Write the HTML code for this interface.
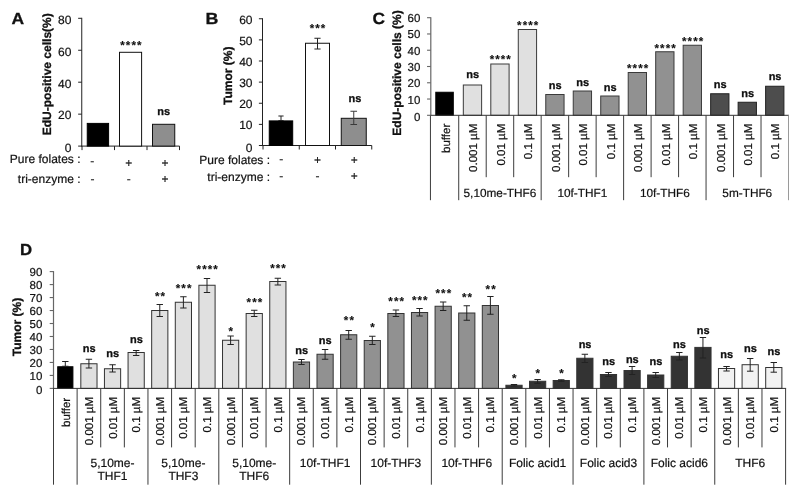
<!DOCTYPE html>
<html><head><meta charset="utf-8"><title>Figure</title>
<style>
html,body{margin:0;padding:0;background:#fff;}
body{width:800px;height:496px;overflow:hidden;font-family:'Liberation Sans', sans-serif;}
svg{display:block;will-change:transform;text-rendering:geometricPrecision;font-family:'Liberation Sans', sans-serif;}
</style></head><body>
<svg width="800" height="496" viewBox="0 0 800 496">
<rect x="0" y="0" width="800" height="496" fill="#ffffff"/>
<text x="11.50" y="23.90" font-size="16" text-anchor="start" font-weight="bold" fill="#111" stroke="#111" stroke-width="0.3" textLength="12.6" lengthAdjust="spacingAndGlyphs">A</text>
<line x1="81.75" y1="17.80" x2="81.75" y2="146.60" stroke="#222" stroke-width="1"/>
<line x1="81.25" y1="146.10" x2="179.50" y2="146.10" stroke="#222" stroke-width="1"/>
<line x1="78.15" y1="146.10" x2="81.75" y2="146.10" stroke="#222" stroke-width="1"/>
<text x="71.40" y="152.00" font-size="12" text-anchor="end" fill="#111" stroke="#111" stroke-width="0.2">0</text>
<line x1="78.15" y1="114.15" x2="81.75" y2="114.15" stroke="#222" stroke-width="1"/>
<text x="71.40" y="119.45" font-size="12" text-anchor="end" fill="#111" stroke="#111" stroke-width="0.2">20</text>
<line x1="78.15" y1="82.20" x2="81.75" y2="82.20" stroke="#222" stroke-width="1"/>
<text x="71.40" y="87.50" font-size="12" text-anchor="end" fill="#111" stroke="#111" stroke-width="0.2">40</text>
<line x1="78.15" y1="50.25" x2="81.75" y2="50.25" stroke="#222" stroke-width="1"/>
<text x="71.40" y="55.55" font-size="12" text-anchor="end" fill="#111" stroke="#111" stroke-width="0.2">60</text>
<line x1="78.15" y1="18.30" x2="81.75" y2="18.30" stroke="#222" stroke-width="1"/>
<text x="71.40" y="23.60" font-size="12" text-anchor="end" fill="#111" stroke="#111" stroke-width="0.2">80</text>
<line x1="82.00" y1="146.10" x2="82.00" y2="150.10" stroke="#222" stroke-width="1"/>
<line x1="114.50" y1="146.10" x2="114.50" y2="150.10" stroke="#222" stroke-width="1"/>
<line x1="147.00" y1="146.10" x2="147.00" y2="150.10" stroke="#222" stroke-width="1"/>
<line x1="179.50" y1="146.10" x2="179.50" y2="150.10" stroke="#222" stroke-width="1"/>
<rect x="87.25" y="123.40" width="21.35" height="22.70" fill="#000" stroke="#000" stroke-width="1"/>
<rect x="119.50" y="52.30" width="22.10" height="93.80" fill="#fff" stroke="#111" stroke-width="1"/>
<rect x="152.50" y="124.30" width="22.25" height="21.80" fill="#8e8e8e" stroke="#111" stroke-width="1"/>
<text x="131.45" y="49.27" font-size="11.5" text-anchor="middle" font-weight="bold" fill="#111" stroke="#111" stroke-width="0.1" letter-spacing="1.1">****</text>
<text x="163.70" y="114.50" font-size="11" text-anchor="middle" font-weight="bold" fill="#111" stroke="#111" stroke-width="0.3">ns</text>
<text x="51.20" y="74.30" font-size="12" text-anchor="middle" font-weight="bold" transform="rotate(-90 51.20 74.30)" fill="#111" stroke="#111" stroke-width="0.3">EdU-positive cells(%)</text>
<text x="80.50" y="163.00" font-size="12" text-anchor="end" fill="#111" stroke="#111" stroke-width="0.2">Pure folates :</text>
<text x="80.50" y="182.75" font-size="12" text-anchor="end" fill="#111" stroke="#111" stroke-width="0.2">tri-enzyme :</text>
<text x="92.20" y="165.40" font-size="12" text-anchor="middle" fill="#111" stroke="#111" stroke-width="0.15">-</text>
<text x="128.75" y="166.50" font-size="12" text-anchor="middle" fill="#111" stroke="#111" stroke-width="0.15">+</text>
<text x="165.00" y="166.50" font-size="12" text-anchor="middle" fill="#111" stroke="#111" stroke-width="0.15">+</text>
<text x="92.50" y="182.75" font-size="12" text-anchor="middle" fill="#111" stroke="#111" stroke-width="0.15">-</text>
<text x="128.75" y="182.75" font-size="12" text-anchor="middle" fill="#111" stroke="#111" stroke-width="0.15">-</text>
<text x="165.00" y="182.75" font-size="12" text-anchor="middle" fill="#111" stroke="#111" stroke-width="0.15">+</text>
<text x="205.60" y="24.30" font-size="16" text-anchor="start" font-weight="bold" fill="#111" stroke="#111" stroke-width="0.3" textLength="12.9" lengthAdjust="spacingAndGlyphs">B</text>
<line x1="262.50" y1="18.25" x2="262.50" y2="146.00" stroke="#222" stroke-width="1"/>
<line x1="262.00" y1="145.50" x2="371.75" y2="145.50" stroke="#222" stroke-width="1"/>
<line x1="258.90" y1="145.50" x2="262.50" y2="145.50" stroke="#222" stroke-width="1"/>
<text x="252.50" y="151.80" font-size="12" text-anchor="end" fill="#111" stroke="#111" stroke-width="0.2">0</text>
<line x1="258.90" y1="124.38" x2="262.50" y2="124.38" stroke="#222" stroke-width="1"/>
<text x="252.50" y="129.47" font-size="12" text-anchor="end" fill="#111" stroke="#111" stroke-width="0.2">10</text>
<line x1="258.90" y1="103.25" x2="262.50" y2="103.25" stroke="#222" stroke-width="1"/>
<text x="252.50" y="108.35" font-size="12" text-anchor="end" fill="#111" stroke="#111" stroke-width="0.2">20</text>
<line x1="258.90" y1="82.12" x2="262.50" y2="82.12" stroke="#222" stroke-width="1"/>
<text x="252.50" y="87.22" font-size="12" text-anchor="end" fill="#111" stroke="#111" stroke-width="0.2">30</text>
<line x1="258.90" y1="61.00" x2="262.50" y2="61.00" stroke="#222" stroke-width="1"/>
<text x="252.50" y="66.10" font-size="12" text-anchor="end" fill="#111" stroke="#111" stroke-width="0.2">40</text>
<line x1="258.90" y1="39.88" x2="262.50" y2="39.88" stroke="#222" stroke-width="1"/>
<text x="252.50" y="44.98" font-size="12" text-anchor="end" fill="#111" stroke="#111" stroke-width="0.2">50</text>
<line x1="258.90" y1="18.75" x2="262.50" y2="18.75" stroke="#222" stroke-width="1"/>
<text x="252.50" y="23.85" font-size="12" text-anchor="end" fill="#111" stroke="#111" stroke-width="0.2">60</text>
<line x1="263.00" y1="145.50" x2="263.00" y2="149.50" stroke="#222" stroke-width="1"/>
<line x1="299.25" y1="145.50" x2="299.25" y2="149.50" stroke="#222" stroke-width="1"/>
<line x1="335.50" y1="145.50" x2="335.50" y2="149.50" stroke="#222" stroke-width="1"/>
<line x1="371.75" y1="145.50" x2="371.75" y2="149.50" stroke="#222" stroke-width="1"/>
<rect x="269.25" y="120.90" width="23.45" height="24.60" fill="#000" stroke="#000" stroke-width="1"/>
<line x1="281.00" y1="116.00" x2="281.00" y2="120.50" stroke="#222" stroke-width="1"/>
<line x1="278.40" y1="116.00" x2="283.60" y2="116.00" stroke="#222" stroke-width="1"/>
<line x1="278.40" y1="120.50" x2="283.60" y2="120.50" stroke="#222" stroke-width="1"/>
<rect x="305.50" y="43.25" width="24.00" height="102.25" fill="#fff" stroke="#111" stroke-width="1"/>
<line x1="317.50" y1="38.25" x2="317.50" y2="49.00" stroke="#222" stroke-width="1"/>
<line x1="314.40" y1="38.25" x2="320.60" y2="38.25" stroke="#222" stroke-width="1"/>
<line x1="314.40" y1="49.00" x2="320.60" y2="49.00" stroke="#222" stroke-width="1"/>
<rect x="341.25" y="118.30" width="25.00" height="27.20" fill="#8e8e8e" stroke="#111" stroke-width="1"/>
<line x1="353.75" y1="111.25" x2="353.75" y2="124.50" stroke="#3a3a3a" stroke-width="1"/>
<line x1="350.45" y1="111.25" x2="357.05" y2="111.25" stroke="#3a3a3a" stroke-width="1"/>
<line x1="350.45" y1="124.50" x2="357.05" y2="124.50" stroke="#3a3a3a" stroke-width="1"/>
<text x="318.05" y="31.67" font-size="11.5" text-anchor="middle" font-weight="bold" fill="#111" stroke="#111" stroke-width="0.1" letter-spacing="1.1">***</text>
<text x="355.00" y="102.00" font-size="11" text-anchor="middle" font-weight="bold" fill="#111" stroke="#111" stroke-width="0.3">ns</text>
<text x="232.00" y="75.80" font-size="12" text-anchor="middle" font-weight="bold" transform="rotate(-90 232.00 75.80)" fill="#111" stroke="#111" stroke-width="0.3">Tumor (%)</text>
<text x="270.00" y="164.00" font-size="12" text-anchor="end" fill="#111" stroke="#111" stroke-width="0.2">Pure folates :</text>
<text x="270.00" y="180.50" font-size="12" text-anchor="end" fill="#111" stroke="#111" stroke-width="0.2">tri-enzyme :</text>
<text x="281.25" y="162.50" font-size="12" text-anchor="middle" fill="#111" stroke="#111" stroke-width="0.15">-</text>
<text x="317.50" y="163.70" font-size="12" text-anchor="middle" fill="#111" stroke="#111" stroke-width="0.15">+</text>
<text x="354.25" y="163.70" font-size="12" text-anchor="middle" fill="#111" stroke="#111" stroke-width="0.15">+</text>
<text x="281.25" y="180.30" font-size="12" text-anchor="middle" fill="#111" stroke="#111" stroke-width="0.15">-</text>
<text x="317.50" y="180.30" font-size="12" text-anchor="middle" fill="#111" stroke="#111" stroke-width="0.15">-</text>
<text x="354.25" y="179.50" font-size="12" text-anchor="middle" fill="#111" stroke="#111" stroke-width="0.15">+</text>
<text x="372.60" y="24.00" font-size="16.3" text-anchor="start" font-weight="bold" fill="#111" stroke="#111" stroke-width="0.3" textLength="12.5" lengthAdjust="spacingAndGlyphs">C</text>
<line x1="430.80" y1="17.20" x2="430.80" y2="115.30" stroke="#666" stroke-width="1.2"/>
<line x1="427.05" y1="115.30" x2="430.80" y2="115.30" stroke="#666" stroke-width="1.1"/>
<text x="420.30" y="120.90" font-size="11.5" text-anchor="end" fill="#111" stroke="#111" stroke-width="0.2">0</text>
<line x1="427.05" y1="99.03" x2="430.80" y2="99.03" stroke="#666" stroke-width="1.1"/>
<text x="420.30" y="103.53" font-size="11.5" text-anchor="end" fill="#111" stroke="#111" stroke-width="0.2">10</text>
<line x1="427.05" y1="82.77" x2="430.80" y2="82.77" stroke="#666" stroke-width="1.1"/>
<text x="420.30" y="87.27" font-size="11.5" text-anchor="end" fill="#111" stroke="#111" stroke-width="0.2">20</text>
<line x1="427.05" y1="66.50" x2="430.80" y2="66.50" stroke="#666" stroke-width="1.1"/>
<text x="420.30" y="71.00" font-size="11.5" text-anchor="end" fill="#111" stroke="#111" stroke-width="0.2">30</text>
<line x1="427.05" y1="50.23" x2="430.80" y2="50.23" stroke="#666" stroke-width="1.1"/>
<text x="420.30" y="54.73" font-size="11.5" text-anchor="end" fill="#111" stroke="#111" stroke-width="0.2">40</text>
<line x1="427.05" y1="33.97" x2="430.80" y2="33.97" stroke="#666" stroke-width="1.1"/>
<text x="420.30" y="38.47" font-size="11.5" text-anchor="end" fill="#111" stroke="#111" stroke-width="0.2">50</text>
<line x1="427.05" y1="17.70" x2="430.80" y2="17.70" stroke="#666" stroke-width="1.1"/>
<text x="420.30" y="22.20" font-size="11.5" text-anchor="end" fill="#111" stroke="#111" stroke-width="0.2">60</text>
<text x="401.00" y="73.00" font-size="12" text-anchor="middle" font-weight="bold" transform="rotate(-90 401.00 73.00)" fill="#111" stroke="#111" stroke-width="0.3">EdU-positive cells (%)</text>
<rect x="435.80" y="92.25" width="17.50" height="23.05" fill="#000" stroke="#000" stroke-width="1"/>
<text x="450.49" y="123.75" font-size="11.5" text-anchor="end" transform="rotate(-90 450.49 123.75)" fill="#111" stroke="#111" stroke-width="0.2">buffer</text>
<rect x="463.32" y="85.00" width="18.30" height="30.30" fill="#e0e0e0" stroke="#3a3a3a" stroke-width="1"/>
<text x="472.77" y="78.40" font-size="11" text-anchor="middle" font-weight="bold" fill="#111" stroke="#111" stroke-width="0.3">ns</text>
<text x="477.17" y="123.75" font-size="11.5" text-anchor="end" transform="rotate(-90 477.17 123.75)" fill="#111" stroke="#111" stroke-width="0.2">0.001 µM</text>
<rect x="490.80" y="64.00" width="18.30" height="51.30" fill="#e0e0e0" stroke="#3a3a3a" stroke-width="1"/>
<text x="500.80" y="63.27" font-size="11.5" text-anchor="middle" font-weight="bold" fill="#111" stroke="#111" stroke-width="0.1" letter-spacing="1.1">****</text>
<text x="504.65" y="123.75" font-size="11.5" text-anchor="end" transform="rotate(-90 504.65 123.75)" fill="#111" stroke="#111" stroke-width="0.2">0.01 µM</text>
<rect x="518.28" y="29.50" width="18.30" height="85.80" fill="#e0e0e0" stroke="#3a3a3a" stroke-width="1"/>
<text x="528.28" y="29.27" font-size="11.5" text-anchor="middle" font-weight="bold" fill="#111" stroke="#111" stroke-width="0.1" letter-spacing="1.1">****</text>
<text x="532.13" y="123.75" font-size="11.5" text-anchor="end" transform="rotate(-90 532.13 123.75)" fill="#111" stroke="#111" stroke-width="0.2">0.1 µM</text>
<rect x="545.76" y="94.50" width="18.30" height="20.80" fill="#919191" stroke="#3a3a3a" stroke-width="1"/>
<text x="555.21" y="89.00" font-size="11" text-anchor="middle" font-weight="bold" fill="#111" stroke="#111" stroke-width="0.3">ns</text>
<text x="559.61" y="123.75" font-size="11.5" text-anchor="end" transform="rotate(-90 559.61 123.75)" fill="#111" stroke="#111" stroke-width="0.2">0.001 µM</text>
<rect x="573.24" y="91.00" width="18.30" height="24.30" fill="#919191" stroke="#3a3a3a" stroke-width="1"/>
<text x="582.69" y="85.50" font-size="11" text-anchor="middle" font-weight="bold" fill="#111" stroke="#111" stroke-width="0.3">ns</text>
<text x="587.09" y="123.75" font-size="11.5" text-anchor="end" transform="rotate(-90 587.09 123.75)" fill="#111" stroke="#111" stroke-width="0.2">0.01 µM</text>
<rect x="600.73" y="96.00" width="18.30" height="19.30" fill="#919191" stroke="#3a3a3a" stroke-width="1"/>
<text x="610.17" y="90.50" font-size="11" text-anchor="middle" font-weight="bold" fill="#111" stroke="#111" stroke-width="0.3">ns</text>
<text x="614.58" y="123.75" font-size="11.5" text-anchor="end" transform="rotate(-90 614.58 123.75)" fill="#111" stroke="#111" stroke-width="0.2">0.1 µM</text>
<rect x="628.21" y="72.50" width="18.30" height="42.80" fill="#919191" stroke="#3a3a3a" stroke-width="1"/>
<text x="638.21" y="72.37" font-size="11.5" text-anchor="middle" font-weight="bold" fill="#111" stroke="#111" stroke-width="0.1" letter-spacing="1.1">****</text>
<text x="642.06" y="123.75" font-size="11.5" text-anchor="end" transform="rotate(-90 642.06 123.75)" fill="#111" stroke="#111" stroke-width="0.2">0.001 µM</text>
<rect x="655.69" y="51.75" width="18.30" height="63.55" fill="#919191" stroke="#3a3a3a" stroke-width="1"/>
<text x="665.69" y="52.27" font-size="11.5" text-anchor="middle" font-weight="bold" fill="#111" stroke="#111" stroke-width="0.1" letter-spacing="1.1">****</text>
<text x="669.54" y="123.75" font-size="11.5" text-anchor="end" transform="rotate(-90 669.54 123.75)" fill="#111" stroke="#111" stroke-width="0.2">0.01 µM</text>
<rect x="683.17" y="45.25" width="18.30" height="70.05" fill="#919191" stroke="#3a3a3a" stroke-width="1"/>
<text x="693.17" y="44.77" font-size="11.5" text-anchor="middle" font-weight="bold" fill="#111" stroke="#111" stroke-width="0.1" letter-spacing="1.1">****</text>
<text x="697.02" y="123.75" font-size="11.5" text-anchor="end" transform="rotate(-90 697.02 123.75)" fill="#111" stroke="#111" stroke-width="0.2">0.1 µM</text>
<rect x="710.65" y="93.75" width="18.30" height="21.55" fill="#4d4d4d" stroke="#222" stroke-width="1"/>
<text x="720.10" y="88.25" font-size="11" text-anchor="middle" font-weight="bold" fill="#111" stroke="#111" stroke-width="0.3">ns</text>
<text x="724.50" y="123.75" font-size="11.5" text-anchor="end" transform="rotate(-90 724.50 123.75)" fill="#111" stroke="#111" stroke-width="0.2">0.001 µM</text>
<rect x="738.13" y="102.25" width="18.30" height="13.05" fill="#4d4d4d" stroke="#222" stroke-width="1"/>
<text x="747.58" y="96.75" font-size="11" text-anchor="middle" font-weight="bold" fill="#111" stroke="#111" stroke-width="0.3">ns</text>
<text x="751.98" y="123.75" font-size="11.5" text-anchor="end" transform="rotate(-90 751.98 123.75)" fill="#111" stroke="#111" stroke-width="0.2">0.01 µM</text>
<rect x="765.61" y="86.25" width="18.30" height="29.05" fill="#4d4d4d" stroke="#222" stroke-width="1"/>
<text x="775.06" y="80.00" font-size="11" text-anchor="middle" font-weight="bold" fill="#111" stroke="#111" stroke-width="0.3">ns</text>
<text x="779.46" y="123.75" font-size="11.5" text-anchor="end" transform="rotate(-90 779.46 123.75)" fill="#111" stroke="#111" stroke-width="0.2">0.1 µM</text>
<line x1="430.75" y1="115.30" x2="789.00" y2="115.30" stroke="#333" stroke-width="1"/>
<line x1="430.45" y1="115.30" x2="430.45" y2="200.20" stroke="#3c3c3c" stroke-width="1"/>
<line x1="458.73" y1="115.30" x2="458.73" y2="200.20" stroke="#3c3c3c" stroke-width="1"/>
<line x1="486.21" y1="115.30" x2="486.21" y2="177.20" stroke="#3c3c3c" stroke-width="1"/>
<line x1="513.69" y1="115.30" x2="513.69" y2="177.20" stroke="#3c3c3c" stroke-width="1"/>
<line x1="541.17" y1="115.30" x2="541.17" y2="200.20" stroke="#3c3c3c" stroke-width="1"/>
<line x1="568.65" y1="115.30" x2="568.65" y2="177.20" stroke="#3c3c3c" stroke-width="1"/>
<line x1="596.13" y1="115.30" x2="596.13" y2="177.20" stroke="#3c3c3c" stroke-width="1"/>
<line x1="623.62" y1="115.30" x2="623.62" y2="200.20" stroke="#3c3c3c" stroke-width="1"/>
<line x1="651.10" y1="115.30" x2="651.10" y2="177.20" stroke="#3c3c3c" stroke-width="1"/>
<line x1="678.58" y1="115.30" x2="678.58" y2="177.20" stroke="#3c3c3c" stroke-width="1"/>
<line x1="706.06" y1="115.30" x2="706.06" y2="200.20" stroke="#3c3c3c" stroke-width="1"/>
<line x1="733.54" y1="115.30" x2="733.54" y2="177.20" stroke="#3c3c3c" stroke-width="1"/>
<line x1="761.02" y1="115.30" x2="761.02" y2="177.20" stroke="#3c3c3c" stroke-width="1"/>
<line x1="788.50" y1="115.30" x2="788.50" y2="200.20" stroke="#9a9a9a" stroke-width="1"/>
<text x="499.95" y="197.00" font-size="11.8" text-anchor="middle" fill="#111" stroke="#111" stroke-width="0.2">5,10me-THF6</text>
<text x="582.39" y="197.00" font-size="11.8" text-anchor="middle" fill="#111" stroke="#111" stroke-width="0.2">10f-THF1</text>
<text x="664.84" y="197.00" font-size="11.8" text-anchor="middle" fill="#111" stroke="#111" stroke-width="0.2">10f-THF6</text>
<text x="747.28" y="197.00" font-size="11.8" text-anchor="middle" fill="#111" stroke="#111" stroke-width="0.2">5m-THF6</text>
<text x="20.00" y="255.40" font-size="16" text-anchor="start" font-weight="bold" fill="#111" stroke="#111" stroke-width="0.3" textLength="12.1" lengthAdjust="spacingAndGlyphs">D</text>
<line x1="53.50" y1="271.10" x2="53.50" y2="388.40" stroke="#666" stroke-width="1.2"/>
<line x1="49.70" y1="388.40" x2="53.50" y2="388.40" stroke="#666" stroke-width="1.1"/>
<text x="42.40" y="394.00" font-size="11.5" text-anchor="end" fill="#111" stroke="#111" stroke-width="0.2">0</text>
<line x1="49.70" y1="375.42" x2="53.50" y2="375.42" stroke="#666" stroke-width="1.1"/>
<text x="42.40" y="379.82" font-size="11.5" text-anchor="end" fill="#111" stroke="#111" stroke-width="0.2">10</text>
<line x1="49.70" y1="362.44" x2="53.50" y2="362.44" stroke="#666" stroke-width="1.1"/>
<text x="42.40" y="366.84" font-size="11.5" text-anchor="end" fill="#111" stroke="#111" stroke-width="0.2">20</text>
<line x1="49.70" y1="349.47" x2="53.50" y2="349.47" stroke="#666" stroke-width="1.1"/>
<text x="42.40" y="353.87" font-size="11.5" text-anchor="end" fill="#111" stroke="#111" stroke-width="0.2">30</text>
<line x1="49.70" y1="336.49" x2="53.50" y2="336.49" stroke="#666" stroke-width="1.1"/>
<text x="42.40" y="340.89" font-size="11.5" text-anchor="end" fill="#111" stroke="#111" stroke-width="0.2">40</text>
<line x1="49.70" y1="323.51" x2="53.50" y2="323.51" stroke="#666" stroke-width="1.1"/>
<text x="42.40" y="327.91" font-size="11.5" text-anchor="end" fill="#111" stroke="#111" stroke-width="0.2">50</text>
<line x1="49.70" y1="310.53" x2="53.50" y2="310.53" stroke="#666" stroke-width="1.1"/>
<text x="42.40" y="314.93" font-size="11.5" text-anchor="end" fill="#111" stroke="#111" stroke-width="0.2">60</text>
<line x1="49.70" y1="297.56" x2="53.50" y2="297.56" stroke="#666" stroke-width="1.1"/>
<text x="42.40" y="301.96" font-size="11.5" text-anchor="end" fill="#111" stroke="#111" stroke-width="0.2">70</text>
<line x1="49.70" y1="284.58" x2="53.50" y2="284.58" stroke="#666" stroke-width="1.1"/>
<text x="42.40" y="288.98" font-size="11.5" text-anchor="end" fill="#111" stroke="#111" stroke-width="0.2">80</text>
<line x1="49.70" y1="271.60" x2="53.50" y2="271.60" stroke="#666" stroke-width="1.1"/>
<text x="42.40" y="276.00" font-size="11.5" text-anchor="end" fill="#111" stroke="#111" stroke-width="0.2">90</text>
<text x="21.20" y="327.00" font-size="12" text-anchor="middle" font-weight="bold" transform="rotate(-90 21.20 327.00)" fill="#111" stroke="#111" stroke-width="0.3">Tumor (%)</text>
<rect x="57.71" y="366.75" width="15.20" height="21.65" fill="#000" stroke="#000" stroke-width="1"/>
<line x1="65.31" y1="361.50" x2="65.31" y2="366.25" stroke="#222" stroke-width="1"/>
<line x1="62.11" y1="361.50" x2="68.51" y2="361.50" stroke="#222" stroke-width="1"/>
<line x1="62.11" y1="366.25" x2="68.51" y2="366.25" stroke="#222" stroke-width="1"/>
<text x="70.31" y="397.80" font-size="11.5" text-anchor="end" transform="rotate(-90 70.31 397.80)" fill="#111" stroke="#111" stroke-width="0.2">buffer</text>
<rect x="80.82" y="363.75" width="16.20" height="24.65" fill="#e0e0e0" stroke="#333" stroke-width="1"/>
<line x1="88.92" y1="359.25" x2="88.92" y2="368.00" stroke="#222" stroke-width="1"/>
<line x1="85.72" y1="359.25" x2="92.12" y2="359.25" stroke="#222" stroke-width="1"/>
<line x1="85.72" y1="368.00" x2="92.12" y2="368.00" stroke="#222" stroke-width="1"/>
<text x="89.12" y="351.75" font-size="11" text-anchor="middle" font-weight="bold" fill="#111" stroke="#111" stroke-width="0.3">ns</text>
<text x="92.92" y="397.00" font-size="11.5" text-anchor="end" transform="rotate(-90 92.92 397.00)" fill="#111" stroke="#111" stroke-width="0.2">0.001 µM</text>
<rect x="104.44" y="368.75" width="16.20" height="19.65" fill="#e0e0e0" stroke="#333" stroke-width="1"/>
<line x1="112.54" y1="364.75" x2="112.54" y2="372.00" stroke="#222" stroke-width="1"/>
<line x1="109.34" y1="364.75" x2="115.74" y2="364.75" stroke="#222" stroke-width="1"/>
<line x1="109.34" y1="372.00" x2="115.74" y2="372.00" stroke="#222" stroke-width="1"/>
<text x="112.74" y="356.75" font-size="11" text-anchor="middle" font-weight="bold" fill="#111" stroke="#111" stroke-width="0.3">ns</text>
<text x="116.54" y="397.00" font-size="11.5" text-anchor="end" transform="rotate(-90 116.54 397.00)" fill="#111" stroke="#111" stroke-width="0.2">0.01 µM</text>
<rect x="128.06" y="352.50" width="16.20" height="35.90" fill="#e0e0e0" stroke="#333" stroke-width="1"/>
<line x1="136.16" y1="350.50" x2="136.16" y2="355.50" stroke="#222" stroke-width="1"/>
<line x1="132.96" y1="350.50" x2="139.36" y2="350.50" stroke="#222" stroke-width="1"/>
<line x1="132.96" y1="355.50" x2="139.36" y2="355.50" stroke="#222" stroke-width="1"/>
<text x="136.36" y="343.00" font-size="11" text-anchor="middle" font-weight="bold" fill="#111" stroke="#111" stroke-width="0.3">ns</text>
<text x="140.16" y="397.00" font-size="11.5" text-anchor="end" transform="rotate(-90 140.16 397.00)" fill="#111" stroke="#111" stroke-width="0.2">0.1 µM</text>
<rect x="151.67" y="310.50" width="16.20" height="77.90" fill="#e0e0e0" stroke="#333" stroke-width="1"/>
<line x1="159.77" y1="304.50" x2="159.77" y2="316.50" stroke="#222" stroke-width="1"/>
<line x1="156.57" y1="304.50" x2="162.97" y2="304.50" stroke="#222" stroke-width="1"/>
<line x1="156.57" y1="316.50" x2="162.97" y2="316.50" stroke="#222" stroke-width="1"/>
<text x="160.52" y="299.67" font-size="11.5" text-anchor="middle" font-weight="bold" fill="#111" stroke="#111" stroke-width="0.1" letter-spacing="1.1">**</text>
<text x="163.77" y="397.00" font-size="11.5" text-anchor="end" transform="rotate(-90 163.77 397.00)" fill="#111" stroke="#111" stroke-width="0.2">0.001 µM</text>
<rect x="175.29" y="302.25" width="16.20" height="86.15" fill="#e0e0e0" stroke="#333" stroke-width="1"/>
<line x1="183.39" y1="296.75" x2="183.39" y2="308.00" stroke="#222" stroke-width="1"/>
<line x1="180.19" y1="296.75" x2="186.59" y2="296.75" stroke="#222" stroke-width="1"/>
<line x1="180.19" y1="308.00" x2="186.59" y2="308.00" stroke="#222" stroke-width="1"/>
<text x="184.14" y="291.92" font-size="11.5" text-anchor="middle" font-weight="bold" fill="#111" stroke="#111" stroke-width="0.1" letter-spacing="1.1">***</text>
<text x="187.39" y="397.00" font-size="11.5" text-anchor="end" transform="rotate(-90 187.39 397.00)" fill="#111" stroke="#111" stroke-width="0.2">0.01 µM</text>
<rect x="198.90" y="285.25" width="16.20" height="103.15" fill="#e0e0e0" stroke="#333" stroke-width="1"/>
<line x1="207.00" y1="278.50" x2="207.00" y2="292.50" stroke="#222" stroke-width="1"/>
<line x1="203.80" y1="278.50" x2="210.20" y2="278.50" stroke="#222" stroke-width="1"/>
<line x1="203.80" y1="292.50" x2="210.20" y2="292.50" stroke="#222" stroke-width="1"/>
<text x="207.75" y="273.17" font-size="11.5" text-anchor="middle" font-weight="bold" fill="#111" stroke="#111" stroke-width="0.1" letter-spacing="1.1">****</text>
<text x="211.00" y="397.00" font-size="11.5" text-anchor="end" transform="rotate(-90 211.00 397.00)" fill="#111" stroke="#111" stroke-width="0.2">0.1 µM</text>
<rect x="222.52" y="340.25" width="16.20" height="48.15" fill="#e0e0e0" stroke="#333" stroke-width="1"/>
<line x1="230.62" y1="336.00" x2="230.62" y2="344.50" stroke="#222" stroke-width="1"/>
<line x1="227.42" y1="336.00" x2="233.82" y2="336.00" stroke="#222" stroke-width="1"/>
<line x1="227.42" y1="344.50" x2="233.82" y2="344.50" stroke="#222" stroke-width="1"/>
<text x="231.37" y="334.67" font-size="11.5" text-anchor="middle" font-weight="bold" fill="#111" stroke="#111" stroke-width="0.1" letter-spacing="1.1">*</text>
<text x="234.62" y="397.00" font-size="11.5" text-anchor="end" transform="rotate(-90 234.62 397.00)" fill="#111" stroke="#111" stroke-width="0.2">0.001 µM</text>
<rect x="246.14" y="313.50" width="16.20" height="74.90" fill="#e0e0e0" stroke="#333" stroke-width="1"/>
<line x1="254.24" y1="310.25" x2="254.24" y2="316.50" stroke="#222" stroke-width="1"/>
<line x1="251.04" y1="310.25" x2="257.44" y2="310.25" stroke="#222" stroke-width="1"/>
<line x1="251.04" y1="316.50" x2="257.44" y2="316.50" stroke="#222" stroke-width="1"/>
<text x="254.99" y="306.17" font-size="11.5" text-anchor="middle" font-weight="bold" fill="#111" stroke="#111" stroke-width="0.1" letter-spacing="1.1">***</text>
<text x="258.24" y="397.00" font-size="11.5" text-anchor="end" transform="rotate(-90 258.24 397.00)" fill="#111" stroke="#111" stroke-width="0.2">0.01 µM</text>
<rect x="269.75" y="281.50" width="16.20" height="106.90" fill="#e0e0e0" stroke="#333" stroke-width="1"/>
<line x1="277.85" y1="278.25" x2="277.85" y2="285.00" stroke="#222" stroke-width="1"/>
<line x1="274.65" y1="278.25" x2="281.05" y2="278.25" stroke="#222" stroke-width="1"/>
<line x1="274.65" y1="285.00" x2="281.05" y2="285.00" stroke="#222" stroke-width="1"/>
<text x="278.60" y="271.92" font-size="11.5" text-anchor="middle" font-weight="bold" fill="#111" stroke="#111" stroke-width="0.1" letter-spacing="1.1">***</text>
<text x="281.85" y="397.00" font-size="11.5" text-anchor="end" transform="rotate(-90 281.85 397.00)" fill="#111" stroke="#111" stroke-width="0.2">0.1 µM</text>
<rect x="293.37" y="362.00" width="16.20" height="26.40" fill="#919191" stroke="#333" stroke-width="1"/>
<line x1="301.47" y1="359.50" x2="301.47" y2="364.50" stroke="#222" stroke-width="1"/>
<line x1="298.27" y1="359.50" x2="304.67" y2="359.50" stroke="#222" stroke-width="1"/>
<line x1="298.27" y1="364.50" x2="304.67" y2="364.50" stroke="#222" stroke-width="1"/>
<text x="301.67" y="353.50" font-size="11" text-anchor="middle" font-weight="bold" fill="#111" stroke="#111" stroke-width="0.3">ns</text>
<text x="305.47" y="397.00" font-size="11.5" text-anchor="end" transform="rotate(-90 305.47 397.00)" fill="#111" stroke="#111" stroke-width="0.2">0.001 µM</text>
<rect x="316.99" y="354.25" width="16.20" height="34.15" fill="#919191" stroke="#333" stroke-width="1"/>
<line x1="325.09" y1="349.50" x2="325.09" y2="359.25" stroke="#222" stroke-width="1"/>
<line x1="321.89" y1="349.50" x2="328.29" y2="349.50" stroke="#222" stroke-width="1"/>
<line x1="321.89" y1="359.25" x2="328.29" y2="359.25" stroke="#222" stroke-width="1"/>
<text x="325.29" y="343.50" font-size="11" text-anchor="middle" font-weight="bold" fill="#111" stroke="#111" stroke-width="0.3">ns</text>
<text x="329.09" y="397.00" font-size="11.5" text-anchor="end" transform="rotate(-90 329.09 397.00)" fill="#111" stroke="#111" stroke-width="0.2">0.01 µM</text>
<rect x="340.60" y="334.75" width="16.20" height="53.65" fill="#919191" stroke="#333" stroke-width="1"/>
<line x1="348.70" y1="330.50" x2="348.70" y2="339.25" stroke="#222" stroke-width="1"/>
<line x1="345.50" y1="330.50" x2="351.90" y2="330.50" stroke="#222" stroke-width="1"/>
<line x1="345.50" y1="339.25" x2="351.90" y2="339.25" stroke="#222" stroke-width="1"/>
<text x="349.45" y="323.92" font-size="11.5" text-anchor="middle" font-weight="bold" fill="#111" stroke="#111" stroke-width="0.1" letter-spacing="1.1">**</text>
<text x="352.70" y="397.00" font-size="11.5" text-anchor="end" transform="rotate(-90 352.70 397.00)" fill="#111" stroke="#111" stroke-width="0.2">0.1 µM</text>
<rect x="364.22" y="340.50" width="16.20" height="47.90" fill="#919191" stroke="#333" stroke-width="1"/>
<line x1="372.32" y1="336.25" x2="372.32" y2="344.50" stroke="#222" stroke-width="1"/>
<line x1="369.12" y1="336.25" x2="375.52" y2="336.25" stroke="#222" stroke-width="1"/>
<line x1="369.12" y1="344.50" x2="375.52" y2="344.50" stroke="#222" stroke-width="1"/>
<text x="373.07" y="331.17" font-size="11.5" text-anchor="middle" font-weight="bold" fill="#111" stroke="#111" stroke-width="0.1" letter-spacing="1.1">*</text>
<text x="376.32" y="397.00" font-size="11.5" text-anchor="end" transform="rotate(-90 376.32 397.00)" fill="#111" stroke="#111" stroke-width="0.2">0.001 µM</text>
<rect x="387.83" y="313.50" width="16.20" height="74.90" fill="#919191" stroke="#333" stroke-width="1"/>
<line x1="395.93" y1="310.00" x2="395.93" y2="316.50" stroke="#222" stroke-width="1"/>
<line x1="392.73" y1="310.00" x2="399.13" y2="310.00" stroke="#222" stroke-width="1"/>
<line x1="392.73" y1="316.50" x2="399.13" y2="316.50" stroke="#222" stroke-width="1"/>
<text x="396.68" y="305.17" font-size="11.5" text-anchor="middle" font-weight="bold" fill="#111" stroke="#111" stroke-width="0.1" letter-spacing="1.1">***</text>
<text x="399.93" y="397.00" font-size="11.5" text-anchor="end" transform="rotate(-90 399.93 397.00)" fill="#111" stroke="#111" stroke-width="0.2">0.01 µM</text>
<rect x="411.45" y="312.50" width="16.20" height="75.90" fill="#919191" stroke="#333" stroke-width="1"/>
<line x1="419.55" y1="308.50" x2="419.55" y2="316.00" stroke="#222" stroke-width="1"/>
<line x1="416.35" y1="308.50" x2="422.75" y2="308.50" stroke="#222" stroke-width="1"/>
<line x1="416.35" y1="316.00" x2="422.75" y2="316.00" stroke="#222" stroke-width="1"/>
<text x="420.30" y="304.42" font-size="11.5" text-anchor="middle" font-weight="bold" fill="#111" stroke="#111" stroke-width="0.1" letter-spacing="1.1">***</text>
<text x="423.55" y="397.00" font-size="11.5" text-anchor="end" transform="rotate(-90 423.55 397.00)" fill="#111" stroke="#111" stroke-width="0.2">0.1 µM</text>
<rect x="435.07" y="306.25" width="16.20" height="82.15" fill="#919191" stroke="#333" stroke-width="1"/>
<line x1="443.17" y1="302.00" x2="443.17" y2="310.50" stroke="#222" stroke-width="1"/>
<line x1="439.97" y1="302.00" x2="446.37" y2="302.00" stroke="#222" stroke-width="1"/>
<line x1="439.97" y1="310.50" x2="446.37" y2="310.50" stroke="#222" stroke-width="1"/>
<text x="443.92" y="296.67" font-size="11.5" text-anchor="middle" font-weight="bold" fill="#111" stroke="#111" stroke-width="0.1" letter-spacing="1.1">***</text>
<text x="447.17" y="397.00" font-size="11.5" text-anchor="end" transform="rotate(-90 447.17 397.00)" fill="#111" stroke="#111" stroke-width="0.2">0.001 µM</text>
<rect x="458.68" y="313.00" width="16.20" height="75.40" fill="#919191" stroke="#333" stroke-width="1"/>
<line x1="466.78" y1="305.75" x2="466.78" y2="320.25" stroke="#222" stroke-width="1"/>
<line x1="463.58" y1="305.75" x2="469.98" y2="305.75" stroke="#222" stroke-width="1"/>
<line x1="463.58" y1="320.25" x2="469.98" y2="320.25" stroke="#222" stroke-width="1"/>
<text x="467.53" y="301.42" font-size="11.5" text-anchor="middle" font-weight="bold" fill="#111" stroke="#111" stroke-width="0.1" letter-spacing="1.1">**</text>
<text x="470.78" y="397.00" font-size="11.5" text-anchor="end" transform="rotate(-90 470.78 397.00)" fill="#111" stroke="#111" stroke-width="0.2">0.01 µM</text>
<rect x="482.30" y="305.50" width="16.20" height="82.90" fill="#919191" stroke="#333" stroke-width="1"/>
<line x1="490.40" y1="296.50" x2="490.40" y2="314.25" stroke="#222" stroke-width="1"/>
<line x1="487.20" y1="296.50" x2="493.60" y2="296.50" stroke="#222" stroke-width="1"/>
<line x1="487.20" y1="314.25" x2="493.60" y2="314.25" stroke="#222" stroke-width="1"/>
<text x="491.15" y="293.17" font-size="11.5" text-anchor="middle" font-weight="bold" fill="#111" stroke="#111" stroke-width="0.1" letter-spacing="1.1">**</text>
<text x="494.40" y="397.00" font-size="11.5" text-anchor="end" transform="rotate(-90 494.40 397.00)" fill="#111" stroke="#111" stroke-width="0.2">0.1 µM</text>
<rect x="505.91" y="385.25" width="16.20" height="3.15" fill="#333333" stroke="#333" stroke-width="1"/>
<line x1="514.01" y1="384.50" x2="514.01" y2="386.00" stroke="#222" stroke-width="1"/>
<line x1="510.81" y1="384.50" x2="517.21" y2="384.50" stroke="#222" stroke-width="1"/>
<line x1="510.81" y1="386.00" x2="517.21" y2="386.00" stroke="#222" stroke-width="1"/>
<text x="514.76" y="381.92" font-size="11.5" text-anchor="middle" font-weight="bold" fill="#111" stroke="#111" stroke-width="0.1" letter-spacing="1.1">*</text>
<text x="518.01" y="397.00" font-size="11.5" text-anchor="end" transform="rotate(-90 518.01 397.00)" fill="#111" stroke="#111" stroke-width="0.2">0.001 µM</text>
<rect x="529.53" y="381.25" width="16.20" height="7.15" fill="#333333" stroke="#333" stroke-width="1"/>
<line x1="537.63" y1="379.50" x2="537.63" y2="383.25" stroke="#222" stroke-width="1"/>
<line x1="534.43" y1="379.50" x2="540.83" y2="379.50" stroke="#222" stroke-width="1"/>
<line x1="534.43" y1="383.25" x2="540.83" y2="383.25" stroke="#222" stroke-width="1"/>
<text x="538.38" y="377.42" font-size="11.5" text-anchor="middle" font-weight="bold" fill="#111" stroke="#111" stroke-width="0.1" letter-spacing="1.1">*</text>
<text x="541.63" y="397.00" font-size="11.5" text-anchor="end" transform="rotate(-90 541.63 397.00)" fill="#111" stroke="#111" stroke-width="0.2">0.01 µM</text>
<rect x="553.15" y="380.50" width="16.20" height="7.90" fill="#333333" stroke="#333" stroke-width="1"/>
<line x1="561.25" y1="379.75" x2="561.25" y2="381.25" stroke="#222" stroke-width="1"/>
<line x1="558.05" y1="379.75" x2="564.45" y2="379.75" stroke="#222" stroke-width="1"/>
<line x1="558.05" y1="381.25" x2="564.45" y2="381.25" stroke="#222" stroke-width="1"/>
<text x="562.00" y="377.42" font-size="11.5" text-anchor="middle" font-weight="bold" fill="#111" stroke="#111" stroke-width="0.1" letter-spacing="1.1">*</text>
<text x="565.25" y="397.00" font-size="11.5" text-anchor="end" transform="rotate(-90 565.25 397.00)" fill="#111" stroke="#111" stroke-width="0.2">0.1 µM</text>
<rect x="576.76" y="358.25" width="16.20" height="30.15" fill="#333333" stroke="#333" stroke-width="1"/>
<line x1="584.86" y1="354.25" x2="584.86" y2="362.50" stroke="#222" stroke-width="1"/>
<line x1="581.66" y1="354.25" x2="588.06" y2="354.25" stroke="#222" stroke-width="1"/>
<line x1="581.66" y1="362.50" x2="588.06" y2="362.50" stroke="#222" stroke-width="1"/>
<text x="585.06" y="348.00" font-size="11" text-anchor="middle" font-weight="bold" fill="#111" stroke="#111" stroke-width="0.3">ns</text>
<text x="588.86" y="397.00" font-size="11.5" text-anchor="end" transform="rotate(-90 588.86 397.00)" fill="#111" stroke="#111" stroke-width="0.2">0.001 µM</text>
<rect x="600.38" y="374.50" width="16.20" height="13.90" fill="#333333" stroke="#333" stroke-width="1"/>
<line x1="608.48" y1="372.50" x2="608.48" y2="376.50" stroke="#222" stroke-width="1"/>
<line x1="605.28" y1="372.50" x2="611.68" y2="372.50" stroke="#222" stroke-width="1"/>
<line x1="605.28" y1="376.50" x2="611.68" y2="376.50" stroke="#222" stroke-width="1"/>
<text x="608.68" y="365.00" font-size="11" text-anchor="middle" font-weight="bold" fill="#111" stroke="#111" stroke-width="0.3">ns</text>
<text x="612.48" y="397.00" font-size="11.5" text-anchor="end" transform="rotate(-90 612.48 397.00)" fill="#111" stroke="#111" stroke-width="0.2">0.01 µM</text>
<rect x="624.00" y="370.50" width="16.20" height="17.90" fill="#333333" stroke="#333" stroke-width="1"/>
<line x1="632.10" y1="366.50" x2="632.10" y2="374.50" stroke="#222" stroke-width="1"/>
<line x1="628.90" y1="366.50" x2="635.30" y2="366.50" stroke="#222" stroke-width="1"/>
<line x1="628.90" y1="374.50" x2="635.30" y2="374.50" stroke="#222" stroke-width="1"/>
<text x="632.30" y="362.50" font-size="11" text-anchor="middle" font-weight="bold" fill="#111" stroke="#111" stroke-width="0.3">ns</text>
<text x="636.10" y="397.00" font-size="11.5" text-anchor="end" transform="rotate(-90 636.10 397.00)" fill="#111" stroke="#111" stroke-width="0.2">0.1 µM</text>
<rect x="647.61" y="375.00" width="16.20" height="13.40" fill="#333333" stroke="#333" stroke-width="1"/>
<line x1="655.71" y1="372.50" x2="655.71" y2="377.50" stroke="#222" stroke-width="1"/>
<line x1="652.51" y1="372.50" x2="658.91" y2="372.50" stroke="#222" stroke-width="1"/>
<line x1="652.51" y1="377.50" x2="658.91" y2="377.50" stroke="#222" stroke-width="1"/>
<text x="655.91" y="364.75" font-size="11" text-anchor="middle" font-weight="bold" fill="#111" stroke="#111" stroke-width="0.3">ns</text>
<text x="659.71" y="397.00" font-size="11.5" text-anchor="end" transform="rotate(-90 659.71 397.00)" fill="#111" stroke="#111" stroke-width="0.2">0.001 µM</text>
<rect x="671.23" y="356.25" width="16.20" height="32.15" fill="#333333" stroke="#333" stroke-width="1"/>
<line x1="679.33" y1="352.50" x2="679.33" y2="360.00" stroke="#222" stroke-width="1"/>
<line x1="676.13" y1="352.50" x2="682.53" y2="352.50" stroke="#222" stroke-width="1"/>
<line x1="676.13" y1="360.00" x2="682.53" y2="360.00" stroke="#222" stroke-width="1"/>
<text x="679.53" y="348.00" font-size="11" text-anchor="middle" font-weight="bold" fill="#111" stroke="#111" stroke-width="0.3">ns</text>
<text x="683.33" y="397.00" font-size="11.5" text-anchor="end" transform="rotate(-90 683.33 397.00)" fill="#111" stroke="#111" stroke-width="0.2">0.01 µM</text>
<rect x="694.84" y="347.40" width="16.20" height="41.00" fill="#333333" stroke="#333" stroke-width="1"/>
<line x1="702.94" y1="337.50" x2="702.94" y2="358.00" stroke="#222" stroke-width="1"/>
<line x1="699.74" y1="337.50" x2="706.14" y2="337.50" stroke="#222" stroke-width="1"/>
<line x1="699.74" y1="358.00" x2="706.14" y2="358.00" stroke="#222" stroke-width="1"/>
<text x="703.14" y="333.70" font-size="11" text-anchor="middle" font-weight="bold" fill="#111" stroke="#111" stroke-width="0.3">ns</text>
<text x="706.94" y="397.00" font-size="11.5" text-anchor="end" transform="rotate(-90 706.94 397.00)" fill="#111" stroke="#111" stroke-width="0.2">0.1 µM</text>
<rect x="718.46" y="368.50" width="16.20" height="19.90" fill="#f2f2f2" stroke="#333" stroke-width="1"/>
<line x1="726.56" y1="366.50" x2="726.56" y2="371.00" stroke="#222" stroke-width="1"/>
<line x1="723.36" y1="366.50" x2="729.76" y2="366.50" stroke="#222" stroke-width="1"/>
<line x1="723.36" y1="371.00" x2="729.76" y2="371.00" stroke="#222" stroke-width="1"/>
<text x="726.76" y="357.90" font-size="11" text-anchor="middle" font-weight="bold" fill="#111" stroke="#111" stroke-width="0.3">ns</text>
<text x="730.56" y="397.00" font-size="11.5" text-anchor="end" transform="rotate(-90 730.56 397.00)" fill="#111" stroke="#111" stroke-width="0.2">0.001 µM</text>
<rect x="742.08" y="364.70" width="16.20" height="23.70" fill="#f2f2f2" stroke="#333" stroke-width="1"/>
<line x1="750.18" y1="358.50" x2="750.18" y2="371.20" stroke="#222" stroke-width="1"/>
<line x1="746.98" y1="358.50" x2="753.38" y2="358.50" stroke="#222" stroke-width="1"/>
<line x1="746.98" y1="371.20" x2="753.38" y2="371.20" stroke="#222" stroke-width="1"/>
<text x="750.38" y="351.60" font-size="11" text-anchor="middle" font-weight="bold" fill="#111" stroke="#111" stroke-width="0.3">ns</text>
<text x="754.18" y="397.00" font-size="11.5" text-anchor="end" transform="rotate(-90 754.18 397.00)" fill="#111" stroke="#111" stroke-width="0.2">0.01 µM</text>
<rect x="765.69" y="367.50" width="16.20" height="20.90" fill="#f2f2f2" stroke="#333" stroke-width="1"/>
<line x1="773.79" y1="362.50" x2="773.79" y2="372.20" stroke="#222" stroke-width="1"/>
<line x1="770.59" y1="362.50" x2="776.99" y2="362.50" stroke="#222" stroke-width="1"/>
<line x1="770.59" y1="372.20" x2="776.99" y2="372.20" stroke="#222" stroke-width="1"/>
<text x="773.99" y="354.60" font-size="11" text-anchor="middle" font-weight="bold" fill="#111" stroke="#111" stroke-width="0.3">ns</text>
<text x="777.79" y="397.00" font-size="11.5" text-anchor="end" transform="rotate(-90 777.79 397.00)" fill="#111" stroke="#111" stroke-width="0.2">0.1 µM</text>
<line x1="53.00" y1="388.40" x2="786.10" y2="388.40" stroke="#333" stroke-width="1"/>
<line x1="53.50" y1="388.40" x2="53.50" y2="484.70" stroke="#3c3c3c" stroke-width="1"/>
<line x1="77.12" y1="388.40" x2="77.12" y2="484.70" stroke="#3c3c3c" stroke-width="1"/>
<line x1="100.73" y1="388.40" x2="100.73" y2="447.40" stroke="#3c3c3c" stroke-width="1"/>
<line x1="124.35" y1="388.40" x2="124.35" y2="447.40" stroke="#3c3c3c" stroke-width="1"/>
<line x1="147.96" y1="388.40" x2="147.96" y2="484.70" stroke="#3c3c3c" stroke-width="1"/>
<line x1="171.58" y1="388.40" x2="171.58" y2="447.40" stroke="#3c3c3c" stroke-width="1"/>
<line x1="195.20" y1="388.40" x2="195.20" y2="447.40" stroke="#3c3c3c" stroke-width="1"/>
<line x1="218.81" y1="388.40" x2="218.81" y2="484.70" stroke="#3c3c3c" stroke-width="1"/>
<line x1="242.43" y1="388.40" x2="242.43" y2="447.40" stroke="#3c3c3c" stroke-width="1"/>
<line x1="266.05" y1="388.40" x2="266.05" y2="447.40" stroke="#3c3c3c" stroke-width="1"/>
<line x1="289.66" y1="388.40" x2="289.66" y2="484.70" stroke="#3c3c3c" stroke-width="1"/>
<line x1="313.28" y1="388.40" x2="313.28" y2="447.40" stroke="#3c3c3c" stroke-width="1"/>
<line x1="336.89" y1="388.40" x2="336.89" y2="447.40" stroke="#3c3c3c" stroke-width="1"/>
<line x1="360.51" y1="388.40" x2="360.51" y2="484.70" stroke="#3c3c3c" stroke-width="1"/>
<line x1="384.13" y1="388.40" x2="384.13" y2="447.40" stroke="#3c3c3c" stroke-width="1"/>
<line x1="407.74" y1="388.40" x2="407.74" y2="447.40" stroke="#3c3c3c" stroke-width="1"/>
<line x1="431.36" y1="388.40" x2="431.36" y2="484.70" stroke="#3c3c3c" stroke-width="1"/>
<line x1="454.97" y1="388.40" x2="454.97" y2="447.40" stroke="#3c3c3c" stroke-width="1"/>
<line x1="478.59" y1="388.40" x2="478.59" y2="447.40" stroke="#3c3c3c" stroke-width="1"/>
<line x1="502.21" y1="388.40" x2="502.21" y2="484.70" stroke="#3c3c3c" stroke-width="1"/>
<line x1="525.82" y1="388.40" x2="525.82" y2="447.40" stroke="#3c3c3c" stroke-width="1"/>
<line x1="549.44" y1="388.40" x2="549.44" y2="447.40" stroke="#3c3c3c" stroke-width="1"/>
<line x1="573.05" y1="388.40" x2="573.05" y2="484.70" stroke="#3c3c3c" stroke-width="1"/>
<line x1="596.67" y1="388.40" x2="596.67" y2="447.40" stroke="#3c3c3c" stroke-width="1"/>
<line x1="620.29" y1="388.40" x2="620.29" y2="447.40" stroke="#3c3c3c" stroke-width="1"/>
<line x1="643.90" y1="388.40" x2="643.90" y2="484.70" stroke="#3c3c3c" stroke-width="1"/>
<line x1="667.52" y1="388.40" x2="667.52" y2="447.40" stroke="#3c3c3c" stroke-width="1"/>
<line x1="691.14" y1="388.40" x2="691.14" y2="447.40" stroke="#3c3c3c" stroke-width="1"/>
<line x1="714.75" y1="388.40" x2="714.75" y2="484.70" stroke="#3c3c3c" stroke-width="1"/>
<line x1="738.37" y1="388.40" x2="738.37" y2="447.40" stroke="#3c3c3c" stroke-width="1"/>
<line x1="761.98" y1="388.40" x2="761.98" y2="447.40" stroke="#3c3c3c" stroke-width="1"/>
<line x1="785.60" y1="388.40" x2="785.60" y2="484.70" stroke="#3c3c3c" stroke-width="1"/>
<text x="112.54" y="466.80" font-size="12" text-anchor="middle" fill="#111" stroke="#111" stroke-width="0.2">5,10me-</text>
<text x="112.54" y="480.00" font-size="12" text-anchor="middle" fill="#111" stroke="#111" stroke-width="0.2">THF1</text>
<text x="183.39" y="466.80" font-size="12" text-anchor="middle" fill="#111" stroke="#111" stroke-width="0.2">5,10me-</text>
<text x="183.39" y="480.00" font-size="12" text-anchor="middle" fill="#111" stroke="#111" stroke-width="0.2">THF3</text>
<text x="254.24" y="466.80" font-size="12" text-anchor="middle" fill="#111" stroke="#111" stroke-width="0.2">5,10me-</text>
<text x="254.24" y="480.00" font-size="12" text-anchor="middle" fill="#111" stroke="#111" stroke-width="0.2">THF6</text>
<text x="325.09" y="466.80" font-size="12" text-anchor="middle" fill="#111" stroke="#111" stroke-width="0.2">10f-THF1</text>
<text x="395.93" y="466.80" font-size="12" text-anchor="middle" fill="#111" stroke="#111" stroke-width="0.2">10f-THF3</text>
<text x="466.78" y="466.80" font-size="12" text-anchor="middle" fill="#111" stroke="#111" stroke-width="0.2">10f-THF6</text>
<text x="537.63" y="466.80" font-size="12" text-anchor="middle" fill="#111" stroke="#111" stroke-width="0.2">Folic acid1</text>
<text x="608.48" y="466.80" font-size="12" text-anchor="middle" fill="#111" stroke="#111" stroke-width="0.2">Folic acid3</text>
<text x="679.33" y="466.80" font-size="12" text-anchor="middle" fill="#111" stroke="#111" stroke-width="0.2">Folic acid6</text>
<text x="750.18" y="466.80" font-size="12" text-anchor="middle" fill="#111" stroke="#111" stroke-width="0.2">THF6</text>
</svg>
</body></html>
